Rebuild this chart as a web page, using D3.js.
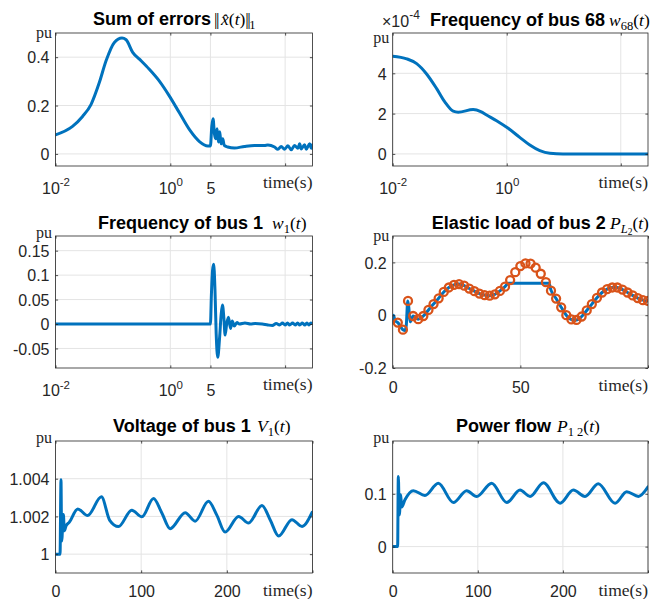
<!DOCTYPE html>
<html>
<head>
<meta charset="utf-8">
<script src="https://cdn.jsdelivr.net/npm/d3@7"></script>
<style>body{margin:0;background:#fff}</style>
</head>
<body>
<script>
// ---- Sum of errors ||x^(t)||_1 (log time axis) ----
const errT = [0.01, 0.0198, 0.0296, 0.0415, 0.058, 0.076, 0.106, 0.144, 0.17, 0.221, 0.29, 0.43, 0.645, 0.966, 1.44, 2.16, 3.22, 4.5, 5.0, 5.28, 5.56, 5.87, 6.2, 6.53, 6.9, 7.27, 7.67, 8.2, 8.7, 10.0, 13.1, 19.6, 29.3, 43.8, 50, 65.5, 74.8, 85.5, 97.8, 112, 128, 146, 167, 179, 191, 218, 234, 267, 286, 300];
const errV = [0.079, 0.114, 0.155, 0.204, 0.295, 0.385, 0.461, 0.479, 0.472, 0.42, 0.392, 0.35, 0.301, 0.239, 0.17, 0.1, 0.051, 0.033, 0.033, 0.114, 0.145, 0.083, 0.0625, 0.104, 0.049, 0.0917, 0.0417, 0.0625, 0.035, 0.0285, 0.0243, 0.031, 0.035, 0.035, 0.037, 0.0285, 0.019, 0.031, 0.0194, 0.0333, 0.0167, 0.0347, 0.0236, 0.0417, 0.0208, 0.0375, 0.0194, 0.0417, 0.0236, 0.0375];

// ---- Frequency of bus 68 (x1e-4, log time axis) ----
const w68T = [0.01, 0.0176, 0.0263, 0.039, 0.059, 0.082, 0.115, 0.141, 0.258, 0.35, 0.443, 0.663, 1.06, 1.69, 2.54, 3.8, 5.7, 9.7, 300];
const w68V = [4.85, 4.72, 4.48, 3.98, 3.24, 2.58, 2.12, 2.07, 2.2, 2.1, 1.93, 1.65, 1.27, 0.82, 0.44, 0.16, 0.03, 0, 0];

// ---- Frequency of bus 1 (log time axis) ----
const w1T = [0.01, 5.0, 5.2, 5.45, 5.7, 6.0, 6.3, 6.7, 7.2, 7.7, 8.1, 8.6, 9.0, 9.6, 10.3, 11.2, 12, 13, 14.5, 16, 20, 25, 30, 40, 50, 60, 70, 80, 90, 100, 110, 120, 135, 150, 165, 180, 200, 220, 240, 260, 280, 300];
const w1V = [0, 0, 0.06, 0.11, 0.122, 0.07, -0.02, -0.068, -0.03, 0.02, 0.039, 0.01, -0.0225, 0.0, 0.0137, -0.009, 0.006, -0.004, 0.003, 0.0, 0.002, 0.0, 0.001, 0.0, -0.002, -0.003, 0.001, -0.002, 0.002, -0.002, 0.002, -0.002, 0.002, -0.002, 0.002, -0.002, 0.002, -0.002, 0.002, -0.002, 0.002, 0.001];

// ---- Elastic load of bus 2: applied load (line) and requested load (markers) ----
const loadT = [0, 0.3, 0.9, 2, 4, 4.8, 5.3, 5.9, 6.3, 6.8, 8, 10, 12, 14, 16, 18, 20, 22, 24, 26, 28, 30, 32, 34, 36, 38, 40, 42, 44, 45.3, 61.2, 62, 64, 66, 68, 70, 72, 74, 76, 78, 80, 82, 84, 86, 88, 90, 92, 94, 96, 98, 100];
const loadV = [-0.03, 0.0, -0.02, -0.028, -0.055, -0.058, -0.04, 0.054, 0.03, -0.025, -0.003, -0.015, -0.003, 0.02, 0.042, 0.064, 0.088, 0.105, 0.115, 0.118, 0.112, 0.101, 0.091, 0.082, 0.076, 0.074, 0.079, 0.092, 0.108, 0.121, 0.121, 0.095, 0.063, 0.030, 0.0, -0.016, -0.018, -0.005, 0.018, 0.042, 0.066, 0.086, 0.099, 0.105, 0.105, 0.097, 0.086, 0.075, 0.065, 0.057, 0.054];
const refT = [2, 4, 6, 8, 10, 12, 14, 16, 18, 20, 22, 24, 26, 28, 30, 32, 34, 36, 38, 40, 42, 44, 46, 48, 50, 52, 54, 56, 58, 60, 62, 64, 66, 68, 70, 72, 74, 76, 78, 80, 82, 84, 86, 88, 90, 92, 94, 96, 98, 100];
const refV = [-0.028, -0.055, 0.054, -0.003, -0.015, -0.003, 0.02, 0.042, 0.064, 0.088, 0.105, 0.115, 0.118, 0.112, 0.101, 0.091, 0.082, 0.076, 0.074, 0.079, 0.092, 0.108, 0.133, 0.163, 0.186, 0.196, 0.195, 0.18, 0.157, 0.125, 0.093, 0.063, 0.03, 0.0, -0.016, -0.018, -0.005, 0.018, 0.042, 0.066, 0.086, 0.099, 0.105, 0.105, 0.097, 0.086, 0.075, 0.065, 0.057, 0.054];

// ---- Voltage of bus 1 ----
const voltT = [0, 5.3, 6.4, 7.2, 9.2, 10.3, 12.3, 16.2, 26, 37.5, 53.6, 63.3, 73.5, 89, 100.9, 114.4, 124, 133.8, 151.4, 163, 178.5, 188.3, 198, 213.7, 225.4, 241, 250.8, 260.5, 276, 287.8, 299.5];
const voltV = [1.0, 1.0, 1.00395, 1.0007, 1.0021, 1.00124, 1.0015, 1.0017, 1.0024, 1.00205, 1.00304, 1.00179, 1.00146, 1.00233, 1.00198, 1.00295, 1.0022, 1.00135, 1.0022, 1.00175, 1.0028, 1.00207, 1.00117, 1.002, 1.00165, 1.00258, 1.0018, 1.00096, 1.00183, 1.00147, 1.00222];

// ---- Power flow P_12 ----
const flowT = [0, 5.8, 6.6, 7.8, 9.4, 10.6, 14.4, 24.2, 37.9, 53.6, 71.3, 86.9, 98.7, 116.3, 134, 149.6, 161.4, 177.1, 196.7, 212.3, 226, 241.6, 261.3, 275, 288.8, 300];
const flowV = [0, 0, 0.133, 0.06, 0.098, 0.075, 0.0886, 0.106, 0.0968, 0.12, 0.0835, 0.106, 0.095, 0.12, 0.0835, 0.107, 0.095, 0.121, 0.0823, 0.107, 0.095, 0.119, 0.082, 0.104, 0.095, 0.113];

// ---- tick values and labels ----
const logTickVals = [0.01, 1, 5, 100];
const logTickText = ["10^-2", "10^0", "5", ""];
const w68TickVals = [0.01, 1, 100];
const w68TickText = ["10^-2", "10^0", ""];
const loadTickVals = [0, 50, 100];
const loadTickText = ["0", "50", ""];
const longTickVals = [0, 100, 200, 300];
const longTickText = ["0", "100", "200", ""];

const errYTicks = [0, 0.2, 0.4], errYText = ["0", "0.2", "0.4"];
const w68YTicks = [0, 2, 4], w68YText = ["0", "2", "4"];
const w1YTicks = [-0.05, 0, 0.05, 0.1, 0.15], w1YText = ["-0.05", "0", "0.05", "0.1", "0.15"];
const loadYTicks = [-0.2, 0, 0.2], loadYText = ["-0.2", "0", "0.2"];
const voltYTicks = [1, 1.002, 1.004], voltYText = ["1", "1.002", "1.004"];
const flowYTicks = [0, 0.1], flowYText = ["0", "0.1"];

const SANS = "'Liberation Sans', Arial, Helvetica, sans-serif";
const SERIF = "'Liberation Serif', 'DejaVu Serif', 'Times New Roman', serif";
const BLUE = "#0072BD", ORANGE = "#D95319", INK = "#262626", GRID = "#e4e4e4";
const TICK_FS = 16;

const svg = d3.select("body").append("svg").attr("width", 659).attr("height", 599)
  .style("font-family", SANS);

// column / row frames
const COL = [[55.5, 312.5], [392.7, 648]];
const ROW = [[33, 166], [236, 368], [441, 573]];

function richText(g, x, y, segs, anchor) {
  const t = g.append("text").attr("x", x).attr("y", y).attr("text-anchor", anchor || "start");
  let shift = 0;
  segs.forEach(s => {
    const target = s.dy || 0;
    const sp = t.append("tspan").text(s.t)
      .attr("font-family", s.f || SERIF)
      .attr("font-size", s.s || 17.5)
      .attr("font-style", s.i ? "italic" : "normal")
      .attr("font-weight", s.b ? "bold" : "normal")
      .attr("fill", s.c || "#000");
    if (s.ls != null) sp.attr("letter-spacing", s.ls);
    if (s.dx != null) sp.attr("dx", s.dx);
    if (target !== shift) { sp.attr("dy", target - shift); shift = target; }
  });
  return t;
}

function panel(p) {
  const g = svg.append("g");
  const x = p.x, y = p.y;
  const [X0, X1] = x.range();
  const [Y1, Y0] = y.range();
  const cid = "clip-" + p.id;
  svg.append("clipPath").attr("id", cid).append("rect")
    .attr("x", X0).attr("y", Y0).attr("width", X1 - X0).attr("height", Y1 - Y0);

  // grid
  g.append("g").selectAll("line").data(p.xTicks).join("line")
    .attr("x1", d => x(d)).attr("x2", d => x(d)).attr("y1", Y0).attr("y2", Y1)
    .attr("stroke", GRID).attr("stroke-width", 1);
  g.append("g").selectAll("line").data(p.yTicks).join("line")
    .attr("x1", X0).attr("x2", X1).attr("y1", d => y(d)).attr("y2", d => y(d))
    .attr("stroke", GRID).attr("stroke-width", 1);

  // data
  const dg = g.append("g").attr("clip-path", `url(#${cid})`);
  p.draw(dg, x, y);

  // axes: inward ticks on all four sides
  const mk = (ax, tx, vals) => {
    const a = g.append("g").attr("transform", tx)
      .call(ax.tickValues(vals).tickSizeInner(-2.6).tickSizeOuter(0).tickFormat(""));
    a.select(".domain").remove();
    a.selectAll(".tick line").attr("stroke", INK).attr("stroke-width", 0.8);
    return a;
  };
  const bottom = mk(d3.axisBottom(x), `translate(0,${Y1})`, p.xTicks);
  mk(d3.axisTop(x), `translate(0,${Y0})`, p.xTicks);
  const left = mk(d3.axisLeft(y), `translate(${X0},0)`, p.yTicks);
  mk(d3.axisRight(y), `translate(${X1},0)`, p.yTicks);

  // tick labels
  bottom.selectAll(".tick").each(function (d, i) {
    const s = p.xText[i];
    if (!s) return;
    const t = d3.select(this).append("text")
      .attr("y", p.xLabelOff).attr("text-anchor", "middle")
      .attr("fill", INK).attr("font-size", TICK_FS).attr("font-family", SANS);
    if (s.includes("^")) {
      const [b, e] = s.split("^");
      t.append("tspan").text(b);
      t.append("tspan").attr("dy", -7.5).attr("font-size", 11.5).text(e);
    } else t.text(s);
  });
  left.selectAll(".tick").each(function (d, i) {
    d3.select(this).append("text")
      .attr("x", -6).attr("dy", "0.36em").attr("text-anchor", "end")
      .attr("fill", INK).attr("font-size", TICK_FS).attr("font-family", SANS)
      .text(p.yText[i]);
  });

  // frame
  g.append("rect").attr("x", X0).attr("y", Y0).attr("width", X1 - X0).attr("height", Y1 - Y0)
    .attr("fill", "none").attr("stroke", INK).attr("stroke-width", 0.8);

  // unit labels
  g.append("text").attr("x", X0 - 3.5).attr("y", Y0 + p.puOff).attr("text-anchor", "end")
    .attr("font-family", SERIF).attr("font-size", 16).attr("fill", INK).text("pu");
  g.append("text").attr("x", X1).attr("y", Y1 + p.timeOff).attr("text-anchor", "end")
    .attr("font-family", SERIF).attr("font-size", 17.5).attr("fill", INK).text("time(s)");

  // title: bold words + math part
  richText(g, p.titleX, p.titleY, [{ t: p.title, f: SANS, s: 18, b: true }]);
  richText(g, p.mathX, p.titleY, p.math);
}

function blueLine(T, V) {
  return (g, x, y) => {
    const line = d3.line().x((d, i) => x(T[i])).y((d, i) => y(V[i])).curve(d3.curveMonotoneX);
    g.append("path").attr("d", line(T)).attr("fill", "none")
      .attr("stroke", BLUE).attr("stroke-width", 3).attr("stroke-linejoin", "round").attr("stroke-linecap", "round");
  };
}

const sub = (t, s) => ({ t, s: s || 12.5, dy: 4 });
const norm = { t: "||", ls: -1.5 };

// 1. Sum of errors
panel({
  id: "err",
  x: d3.scaleLog().domain([0.01, 300]).range(COL[0]),
  y: d3.scaleLinear().domain([-0.05, 0.5]).range([ROW[0][1], ROW[0][0]]),
  xTicks: logTickVals, xText: logTickText, xLabelOff: 27.5,
  yTicks: errYTicks, yText: errYText,
  puOff: 5, timeOff: 22,
  title: "Sum of errors", titleX: 93, titleY: 25,
  mathX: 214, math: [norm, { t: "x\u0302", i: true, ls: 0, dx: 3 }, { t: "(" }, { t: "t", i: true }, { t: ")" }, norm, sub("1")],
  draw: blueLine(errT, errV)
});

// 2. Frequency of bus 68
panel({
  id: "w68",
  x: d3.scaleLog().domain([0.01, 300]).range(COL[1]),
  y: d3.scaleLinear().domain([-0.6, 6]).range([ROW[0][1], ROW[0][0]]),
  xTicks: w68TickVals, xText: w68TickText, xLabelOff: 27.5,
  yTicks: w68YTicks, yText: w68YText,
  puOff: 9.5, timeOff: 22,
  title: "Frequency of bus 68", titleX: 430, titleY: 26,
  mathX: 609, math: [{ t: "w", i: true }, sub("68"), { t: "(", dy: 0 }, { t: "t", i: true }, { t: ")" }],
  draw: blueLine(w68T, w68V)
});
// exponent of the y axis
richText(svg, 382, 26.5, [{ t: "\u00d710", f: SANS, s: 16, c: INK }, { t: "-4", f: SANS, s: 12, c: INK, dy: -8 }]);

// 3. Frequency of bus 1
panel({
  id: "w1",
  x: d3.scaleLog().domain([0.01, 300]).range(COL[0]),
  y: d3.scaleLinear().domain([-0.09, 0.18]).range([ROW[1][1], ROW[1][0]]),
  xTicks: logTickVals, xText: logTickText, xLabelOff: 28,
  yTicks: w1YTicks, yText: w1YText,
  puOff: 2, timeOff: 22,
  title: "Frequency of bus 1", titleX: 98, titleY: 229,
  mathX: 272, math: [{ t: "w", i: true }, sub("1"), { t: "(", dy: 0 }, { t: "t", i: true }, { t: ")" }],
  draw: blueLine(w1T, w1V)
});

// 4. Elastic load of bus 2
panel({
  id: "load",
  x: d3.scaleLinear().domain([0, 100]).range(COL[1]),
  y: d3.scaleLinear().domain([-0.2, 0.3]).range([ROW[1][1], ROW[1][0]]),
  xTicks: loadTickVals, xText: loadTickText, xLabelOff: 25,
  yTicks: loadYTicks, yText: loadYText,
  puOff: 4.5, timeOff: 23,
  title: "Elastic load of bus 2", titleX: 431.7, titleY: 229,
  mathX: 610, math: [{ t: "P", i: true }, { t: "L", i: true, s: 12.5, dy: 4 }, { t: "2", s: 9.5, dy: 6 }, { t: "(", dy: 0 }, { t: "t", i: true }, { t: ")" }],
  draw: (g, x, y) => {
    blueLine(loadT, loadV)(g, x, y);
    g.append("g").selectAll("circle").data(refT).join("circle")
      .attr("cx", d => x(d)).attr("cy", (d, i) => y(refV[i])).attr("r", 4)
      .attr("fill", "none").attr("stroke", ORANGE).attr("stroke-width", 2.3);
  }
});

// 5. Voltage of bus 1
panel({
  id: "volt",
  x: d3.scaleLinear().domain([0, 300]).range(COL[0]),
  y: d3.scaleLinear().domain([0.999, 1.006]).range([ROW[2][1], ROW[2][0]]),
  xTicks: longTickVals, xText: longTickText, xLabelOff: 24,
  yTicks: voltYTicks, yText: voltYText,
  puOff: 2, timeOff: 22.5,
  title: "Voltage of bus 1", titleX: 113, titleY: 432,
  mathX: 257, math: [{ t: "V", i: true }, sub("1"), { t: "(", dy: 0 }, { t: "t", i: true }, { t: ")" }],
  draw: blueLine(voltT, voltV)
});

// 6. Power flow
panel({
  id: "flow",
  x: d3.scaleLinear().domain([0, 300]).range(COL[1]),
  y: d3.scaleLinear().domain([-0.05, 0.2]).range([ROW[2][1], ROW[2][0]]),
  xTicks: longTickVals, xText: longTickText, xLabelOff: 24,
  yTicks: flowYTicks, yText: flowYText,
  puOff: 2, timeOff: 22.5,
  title: "Power flow", titleX: 456, titleY: 432,
  mathX: 557, math: [{ t: "P", i: true }, { t: "1 2", s: 12.5, dy: 4 }, { t: "(", dy: 0 }, { t: "t", i: true }, { t: ")" }],
  draw: blueLine(flowT, flowV)
});
</script>
</body>
</html>
